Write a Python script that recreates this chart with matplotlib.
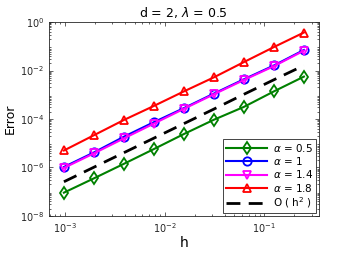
import numpy as np
import matplotlib
matplotlib.use('Agg')
import matplotlib.pyplot as plt
from matplotlib.ticker import LogLocator, NullFormatter

plt.rc('font', family='DejaVu Sans', size=8)
plt.rc('mathtext', fontset='dejavusans')

# mesh sizes h = 2^-10 ... 2^-2
h = [2.0**-k for k in range(10, 1, -1)]

# log10 of error
err_05 = [-7.04, -6.45, -5.85, -5.24, -4.62, -4.03, -3.50, -2.86, -2.25]
err_10 = [-5.98, -5.38, -4.73, -4.13, -3.55, -2.95, -2.36, -1.79, -1.15]
err_14 = [-6.02, -5.42, -4.80, -4.19, -3.58, -2.98, -2.39, -1.82, -1.18]
err_18 = [-5.30, -4.67, -4.04, -3.46, -2.86, -2.28, -1.65, -1.03, -0.43]
ref_h2 = [-6.59, -5.99, -5.39, -4.79, -4.19, -3.59, -2.98, -2.38, -1.79]

series = [
    (err_05, 'green', 'd', r'$\alpha$ = 0.5'),
    (err_10, 'blue', 'o', r'$\alpha$ = 1'),
    (err_14, 'magenta', 'v', r'$\alpha$ = 1.4'),
    (err_18, 'red', '^', r'$\alpha$ = 1.8'),
]

fig = plt.figure(figsize=(3.52, 2.54), dpi=100)
ax = fig.add_axes([0.139, 0.150, 0.767, 0.763])

for vals, col, mk, lab in series:
    ax.loglog(h, 10.0**np.array(vals), color=col, marker=mk, markersize=6,
              markerfacecolor='none', markeredgewidth=1.3, linewidth=1.5, label=lab)
ax.loglog(h, 10.0**np.array(ref_h2), color='black', linestyle=(0, (5, 3)),
          linewidth=2, label=r'O ( h$^2$ )')

ax.set_xlim(2**-10.5, 2**-1.5)
ax.set_ylim(1e-8, 1e0)
ax.set_yticks([1e-8, 1e-6, 1e-4, 1e-2, 1e0])
ax.yaxis.set_minor_locator(LogLocator(base=10, subs=np.arange(2, 10), numticks=50))
ax.yaxis.set_minor_formatter(NullFormatter())
ax.tick_params(which='both', direction='in', top=True, right=True, labelsize=7,
               colors='#262626', width=0.5)
ax.tick_params(which='major', length=3)
ax.tick_params(which='minor', length=1.5)
for s in ax.spines.values():
    s.set_linewidth(0.6)
    s.set_color('#262626')

ax.set_xlabel('h', fontsize=10, labelpad=1)
ax.set_ylabel('Error', fontsize=9, labelpad=2)
ax.set_title(r'd = 2, $\lambda$ = 0.5', fontsize=9, pad=4)

leg = ax.legend(loc='lower right', fontsize=7.5, handlelength=4, borderaxespad=0.3,
                fancybox=False, framealpha=1, edgecolor='#262626',
                labelspacing=0.12, borderpad=0.3, handletextpad=0.5)
leg.get_frame().set_linewidth(0.6)

fig.savefig('out.png', dpi=100)
